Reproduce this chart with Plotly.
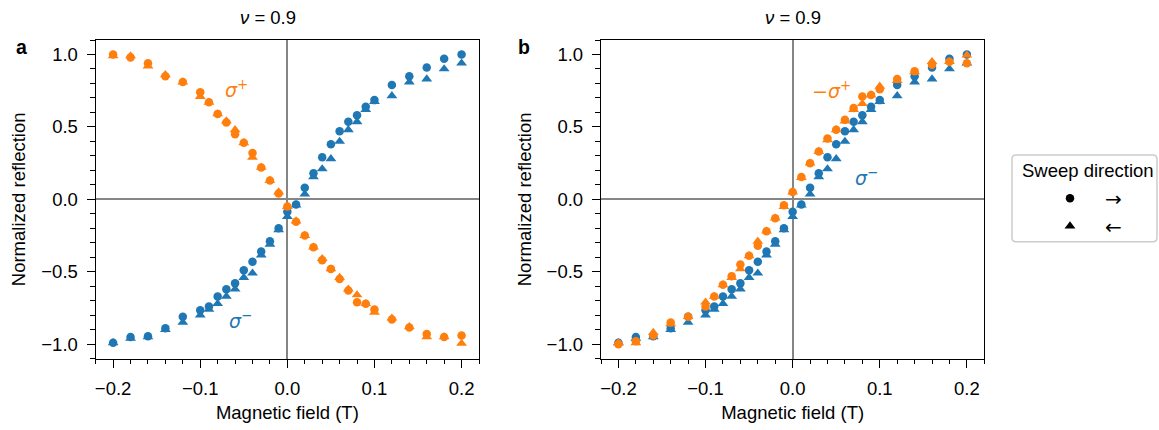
import plotly.graph_objects as go

# ---------------- data ----------------
field = [-0.2, -0.18, -0.16, -0.14, -0.12, -0.1, -0.09, -0.08, -0.07, -0.06, -0.05,
         -0.04, -0.03, -0.02, -0.01, 0.0, 0.01, 0.02, 0.03, 0.04, 0.05, 0.06, 0.07,
         0.08, 0.09, 0.1, 0.12, 0.14, 0.16, 0.18, 0.2]

sigma_plus_fwd = [1.0, 0.98, 0.94, 0.85, 0.81, 0.74, 0.67, 0.59, 0.53, 0.45, 0.39,
                  0.32, 0.22, 0.13, 0.04, -0.05, -0.155, -0.25, -0.33, -0.42, -0.48,
                  -0.55, -0.63, -0.71, -0.72, -0.76, -0.83, -0.885, -0.93, -0.95, -0.94]
sigma_plus_bwd = [0.99, 0.99, 0.92, 0.86, 0.81, 0.71, 0.67, 0.59, 0.54, 0.48, 0.39,
                  0.29, 0.22, 0.13, 0.05, -0.05, -0.15, -0.25, -0.33, -0.41, -0.48,
                  -0.54, -0.62, -0.66, -0.72, -0.78, -0.82, -0.88, -0.95, -0.95, -0.995]
sigma_minus_fwd = [-0.99, -0.95, -0.945, -0.89, -0.81, -0.765, -0.74, -0.67, -0.62, -0.58,
                   -0.49, -0.43, -0.36, -0.29, -0.2, -0.085, -0.035, 0.08, 0.18, 0.29,
                   0.38, 0.47, 0.535, 0.58, 0.64, 0.685, 0.79, 0.85, 0.91, 0.97, 1.0]
sigma_minus_bwd = [-0.99, -0.96, -0.95, -0.9, -0.85, -0.8, -0.76, -0.72, -0.67, -0.62,
                   -0.54, -0.51, -0.385, -0.31, -0.21, -0.12, -0.04, 0.036, 0.155, 0.21,
                   0.28, 0.4, 0.48, 0.535, 0.62, 0.675, 0.715, 0.81, 0.83, 0.9, 0.94]

x_tickvals = [-0.2, -0.1, 0.0, 0.1, 0.2]
x_ticktext = ["\u22120.2", "\u22120.1", "0.0", "0.1", "0.2"]
y_tickvals = [-1.0, -0.5, 0.0, 0.5, 1.0]
y_ticktext = ["\u22121.0", "\u22120.5", "0.0", "0.5", "1.0"]

panel_titles = ["<i>\u03bd</i> = 0.9", "<i>\u03bd</i> = 0.9"]
panel_letters = ["a", "b"]
legend_title = "Sweep direction"
legend_labels = ["\u2192", "\u2190"]

# ---------------- style ----------------
W, H = 1159, 430
BLUE = "#1f77b4"
ORANGE = "#ff7f0e"
FONT = "Liberation Sans, Arial, sans-serif"
FS = 18.5


def px(x):
    return x / W


def py(y):
    return 1 - y / H


x_dom_a = [px(95.7), px(479.0)]
x_dom_b = [px(601.0), px(984.3)]
y_dom = [py(358.7), py(40.0)]

fig = go.Figure()

circ = dict(symbol="circle", size=8.5, line=dict(width=0))
tri = dict(symbol="triangle-up", size=9.5, line=dict(width=0))

panels = [
    ("x", "y", sigma_plus_fwd, sigma_plus_bwd, "\u03c3\u207a"),
    ("x2", "y2", [-v for v in sigma_plus_fwd], [-v for v in sigma_plus_bwd], "\u2212\u03c3\u207a"),
]
for xa, ya, op_f, op_b, oname in panels:
    fig.add_trace(go.Scatter(x=field, y=sigma_minus_fwd, mode="markers", xaxis=xa, yaxis=ya,
                             name="\u03c3\u207b \u2192", marker=dict(color=BLUE, **circ), showlegend=False))
    fig.add_trace(go.Scatter(x=field, y=sigma_minus_bwd, mode="markers", xaxis=xa, yaxis=ya,
                             name="\u03c3\u207b \u2190", marker=dict(color=BLUE, **tri), showlegend=False))
    fig.add_trace(go.Scatter(x=field, y=op_f, mode="markers", xaxis=xa, yaxis=ya,
                             name=oname + " \u2192", marker=dict(color=ORANGE, **circ), showlegend=False))
    fig.add_trace(go.Scatter(x=field, y=op_b, mode="markers", xaxis=xa, yaxis=ya,
                             name=oname + " \u2190", marker=dict(color=ORANGE, **tri), showlegend=False))

# legend markers (manual legend) on a hidden helper axis
fig.add_trace(go.Scatter(x=[0.4], y=[0.5], mode="markers", xaxis="x3", yaxis="y3",
                         marker=dict(color="black", symbol="circle", size=8.5), showlegend=False,
                         name=legend_labels[0], hoverinfo="skip"))
fig.add_trace(go.Scatter(x=[0.4], y=[0.18], mode="markers", xaxis="x3", yaxis="y3",
                         marker=dict(color="black", symbol="triangle-up", size=9.5), showlegend=False,
                         name=legend_labels[1], hoverinfo="skip"))

common_x = dict(range=[-0.22, 0.22], tickmode="array", tickvals=x_tickvals, ticktext=x_ticktext,
                ticks="outside", ticklen=8, tickwidth=1.3, tickcolor="black",
                minor=dict(tickmode="linear", tick0=0, dtick=0.02, ticks="outside", ticklen=4.5,
                           tickwidth=1.1, tickcolor="black"),
                showline=True, linecolor="black", linewidth=1.3, mirror=True,
                showgrid=False, zeroline=True, zerolinecolor="#858585", zerolinewidth=2.4,
                tickfont=dict(family=FONT, size=FS, color="black"), ticklabelstandoff=5,
                title=dict(text="Magnetic field (T)", font=dict(family=FONT, size=FS, color="black"),
                           standoff=8))
common_y = dict(range=[-1.1, 1.1], domain=y_dom, tickmode="array", tickvals=y_tickvals,
                ticktext=y_ticktext, ticks="outside", ticklen=8, tickwidth=1.3, tickcolor="black",
                minor=dict(tickmode="linear", tick0=0, dtick=0.1, ticks="outside", ticklen=4.5,
                           tickwidth=1.1, tickcolor="black"),
                showline=True, linecolor="black", linewidth=1.3, mirror=True,
                showgrid=False, zeroline=True, zerolinecolor="#858585", zerolinewidth=2.4,
                tickfont=dict(family=FONT, size=FS, color="black"), ticklabelstandoff=5,
                title=dict(text="Normalized reflection", font=dict(family=FONT, size=FS, color="black"),
                           standoff=10))

xa = dict(common_x); xa.update(domain=x_dom_a, anchor="y")
xb = dict(common_x); xb.update(domain=x_dom_b, anchor="y2")
ya = dict(common_y); ya.update(anchor="x")
yb = dict(common_y); yb.update(anchor="x2")

leg_x0, leg_x1, leg_y0, leg_y1 = 1012.0, 1157.0, 155.0, 241.7

fig.update_layout(
    width=W, height=H, margin=dict(l=0, r=0, t=0, b=0),
    paper_bgcolor="white", plot_bgcolor="white",
    font=dict(family=FONT, size=FS, color="black"),
    xaxis=xa, yaxis=ya, xaxis2=xb, yaxis2=yb,
    xaxis3=dict(domain=[px(leg_x0), px(leg_x1)], range=[0, 1], visible=False, anchor="y3",
                fixedrange=True, showticklabels=False, showgrid=False, zeroline=False),
    yaxis3=dict(domain=[py(leg_y1), py(leg_y0)], range=[0, 1], visible=False, anchor="x3",
                fixedrange=True, showticklabels=False, showgrid=False, zeroline=False),
    showlegend=False,
)

# rounded legend frame
r = 4.0
rx, ry = r / W, r / H
x0, x1, y0, y1 = px(leg_x0), px(leg_x1), py(leg_y1), py(leg_y0)
path = (f"M {x0+rx},{y0} L {x1-rx},{y0} Q {x1},{y0} {x1},{y0+ry} L {x1},{y1-ry} "
        f"Q {x1},{y1} {x1-rx},{y1} L {x0+rx},{y1} Q {x0},{y1} {x0},{y1-ry} L {x0},{y0+ry} "
        f"Q {x0},{y0} {x0+rx},{y0} Z")
fig.add_shape(type="path", path=path, xref="paper", yref="paper",
              line=dict(color="#cccccc", width=1.5), fillcolor="white", layer="below")

ann = []
# panel titles
for xc, t in zip([268.0, 792.7], panel_titles):
    ann.append(dict(x=px(xc), y=py(18), xref="paper", yref="paper", text=t, showarrow=False,
                    xanchor="center", yanchor="middle", font=dict(family=FONT, size=FS, color="black")))
# panel letters
for xc, t in zip([21.0, 524.0], panel_letters):
    ann.append(dict(x=px(xc), y=py(47), xref="paper", yref="paper", text="<b>" + t + "</b>",
                    showarrow=False, xanchor="center", yanchor="middle",
                    font=dict(family=FONT, size=FS + 1, color="black")))
# curve labels
ann.append(dict(x=-0.058, y=0.76, xref="x", yref="y", text="<i>\u03c3</i><sup>+</sup>", showarrow=False,
                font=dict(family="DejaVu Sans", size=19, color=ORANGE)))
ann.append(dict(x=-0.054, y=-0.83, xref="x", yref="y", text="<i>\u03c3</i><sup>\u2212</sup>",
                showarrow=False, font=dict(family="DejaVu Sans", size=19, color=BLUE)))
ann.append(dict(x=0.045, y=0.754, xref="x2", yref="y2", text="\u2212<i>\u03c3</i><sup>+</sup>",
                showarrow=False, font=dict(family="DejaVu Sans", size=19, color=ORANGE)))
ann.append(dict(x=0.085, y=0.155, xref="x2", yref="y2", text="<i>\u03c3</i><sup>\u2212</sup>",
                showarrow=False, font=dict(family="DejaVu Sans", size=19, color=BLUE)))
# legend texts
ann.append(dict(x=px(1020), y=py(170), xref="paper", yref="paper", text=legend_title, showarrow=False,
                xanchor="left", yanchor="middle", font=dict(family=FONT, size=FS, color="black")))
for yc, t in zip([199.0, 226.7], legend_labels):
    ann.append(dict(x=px(1113.5), y=py(yc), xref="paper", yref="paper", text=t, showarrow=False,
                    xanchor="center", yanchor="middle", font=dict(family="DejaVu Sans", size=20, color="black")))
fig.update_layout(annotations=ann)

fig.write_html("out.html")
